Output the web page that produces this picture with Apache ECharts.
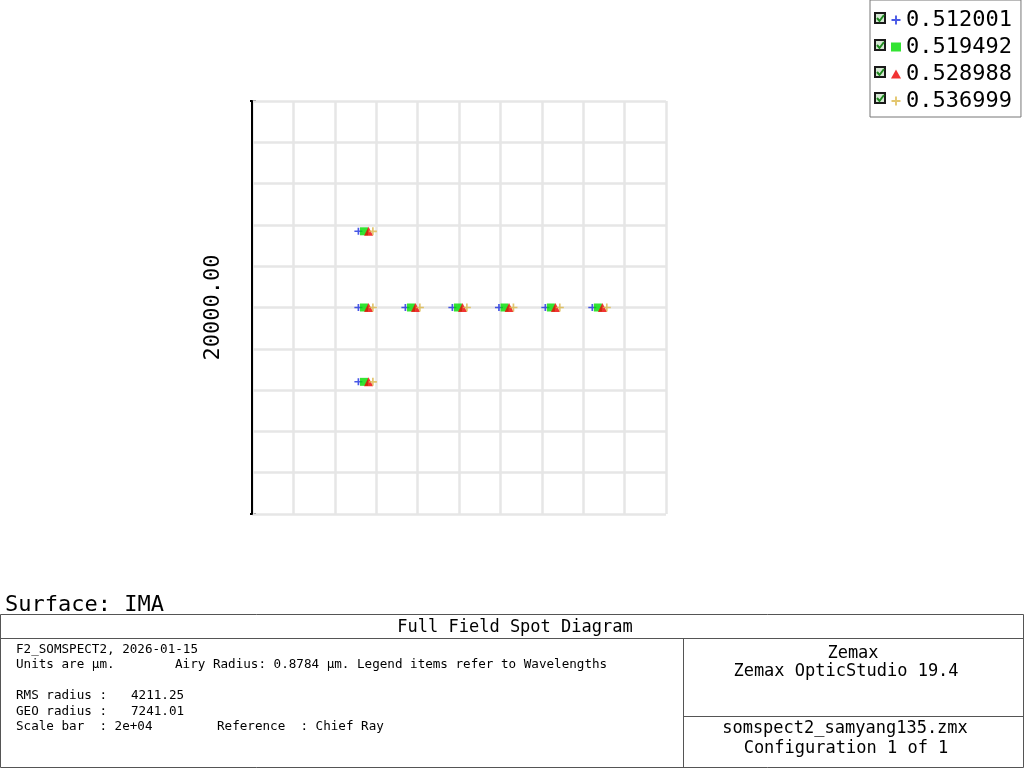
<!DOCTYPE html>
<html>
<head>
<meta charset="utf-8">
<script src="https://cdn.jsdelivr.net/npm/echarts@6/dist/echarts.min.js"></script>
<style>html,body{margin:0;padding:0;background:#fff}#c{width:1024px;height:768px}</style>
</head>
<body>
<div id="c"></div>
<script>
// Wavelengths (µm) used as legend entries
const wavelengths = ['0.512001', '0.519492', '0.528988', '0.536999'];
// Spot centroids per wavelength, [x, y] in µm on the image plane
const spots512 = [[-4860,3690],[-4860,0],[-2590,0],[-320,0],[1930,0],[4170,0],[6440,0],[-4860,-3600]];
const spots519 = [[-4590,3690],[-4590,0],[-2320,0],[-50,0],[2200,0],[4440,0],[6710,0],[-4590,-3600]];
const spots529 = [[-4370,3690],[-4370,0],[-2100,0],[170,0],[2420,0],[4660,0],[6930,0],[-4370,-3600]];
const spots537 = [[-4160,3690],[-4160,0],[-1890,0],[380,0],[2630,0],[4870,0],[7140,0],[-4160,-3600]];
const scaleBarLabel = '20000.00';
const infoLines = {
  title: 'Full Field Spot Diagram',
  surface: 'Surface: IMA',
  l1: 'F2_SOMSPECT2, 2026-01-15',
  l2a: 'Units are µm.',
  l2b: 'Airy Radius: 0.8784 µm. Legend items refer to Wavelengths',
  rms: 'RMS radius :',
  rmsVal: '4211.25',
  geo: 'GEO radius :',
  geoVal: '7241.01',
  scale: 'Scale bar  : 2e+04',
  ref: 'Reference  : Chief Ray',
  r1: 'Zemax',
  r2: 'Zemax OpticStudio 19.4',
  r3: 'somspect2_samyang135.zmx',
  r4: 'Configuration 1 of 1'
};

const MONO = '"DejaVu Sans Mono", "Liberation Mono", monospace';
const plus = 'path://M3,0h1.6v3h3v1.6h-3v3h-1.6v-3h-3v-1.6h3z';
const colors = ['#1a2ee0', '#00dd00', '#ee0000', '#dcb84a'];
const symbols = [plus, 'rect', 'triangle', plus];
const sizes = [[8,7],[8,8],[9,9],[8,8]];
const dataSets = [spots512, spots519, spots529, spots537];

const chart = echarts.init(document.getElementById('c'), null, {renderer: 'canvas'});

const series = wavelengths.map((w, i) => ({
  name: w,
  type: 'scatter',
  data: dataSets[i],
  symbol: symbols[i],
  symbolSize: sizes[i],
  itemStyle: {color: colors[i]},
  z: 3 + i,
  animation: false
}));

function txt(x, y, s, size, align) {
  return {type: 'text', x: x, y: y + 2, style: {text: s, font: size + 'px ' + MONO, fill: '#000', align: align || 'left', verticalAlign: 'middle'}};
}
function ln(x1, y1, x2, y2, col, w) {
  return {type: 'line', shape: {x1: x1, y1: y1, x2: x2, y2: y2}, style: {stroke: col || '#666', lineWidth: w || 1}};
}
const graphics = [];
// checkboxes in legend
[18, 45, 72, 98].forEach(y => {
  graphics.push({type: 'rect', shape: {x: 875, y: y - 5, width: 10, height: 10}, style: {fill: '#d6e8d4', stroke: '#1a1a1a', lineWidth: 2}, z: 100});
  graphics.push({type: 'polyline', shape: {points: [[877, y], [879.5, y + 3], [884, y - 3]]}, style: {stroke: '#1f8a1f', lineWidth: 2, fill: null}, z: 101});
});
// scale bar caps
graphics.push(ln(250, 101, 256, 101, '#000', 2));
graphics.push(ln(250, 514, 256, 514, '#000', 2));
// info box
graphics.push({type: 'rect', shape: {x: 0.5, y: 614.5, width: 1023, height: 153}, style: {fill: 'none', stroke: '#555', lineWidth: 1}});
graphics.push(ln(0, 638.5, 1024, 638.5, '#555'));
graphics.push(ln(683.5, 638.5, 683.5, 768, '#555'));
graphics.push(ln(683.5, 716.5, 1024, 716.5, '#555'));
graphics.push(txt(5, 603, infoLines.surface, 22));
graphics.push(txt(515, 626, infoLines.title, 17, 'center'));
graphics.push(txt(16, 648, infoLines.l1, 12.6));
graphics.push(txt(16, 663, infoLines.l2a, 12.6));
graphics.push(txt(175, 663, infoLines.l2b, 12.6));
graphics.push(txt(16, 694, infoLines.rms, 12.6));
graphics.push(txt(131, 694, infoLines.rmsVal, 12.6));
graphics.push(txt(16, 710, infoLines.geo, 12.6));
graphics.push(txt(131, 710, infoLines.geoVal, 12.6));
graphics.push(txt(16, 725, infoLines.scale, 12.6));
graphics.push(txt(217, 725, infoLines.ref, 12.6));
graphics.push(txt(853, 652, infoLines.r1, 17, 'center'));
graphics.push(txt(846, 670, infoLines.r2, 17, 'center'));
graphics.push(txt(845, 727, infoLines.r3, 17, 'center'));
graphics.push(txt(846, 747, infoLines.r4, 17, 'center'));

chart.setOption({
  animation: false,
  backgroundColor: '#fff',
  grid: {left: 252, top: 101, width: 414, height: 413, containLabel: false},
  xAxis: {
    type: 'value', min: -10000, max: 10000, interval: 2000,
    axisLine: {show: false}, axisTick: {show: false}, axisLabel: {show: false},
    splitLine: {show: true, lineStyle: {color: '#e6e6e6', width: 2.5}}
  },
  yAxis: {
    type: 'value', min: -10000, max: 10000, interval: 2000,
    name: scaleBarLabel, nameLocation: 'middle', nameRotate: 90, nameGap: 28,
    nameTextStyle: {fontFamily: MONO, fontSize: 22, color: '#000'},
    axisLine: {show: true, onZero: false, lineStyle: {color: '#000', width: 2}},
    axisTick: {show: false}, axisLabel: {show: false},
    splitLine: {show: true, lineStyle: {color: '#e6e6e6', width: 2.5}}
  },
  legend: {
    orient: 'vertical', left: 870, top: 0,
    padding: [9, 9, 5, 21], itemGap: 5,
    itemWidth: 10, itemHeight: 9,
    backgroundColor: '#fff', borderColor: '#777', borderWidth: 1,
    textStyle: {fontFamily: MONO, fontSize: 22, color: '#000', lineHeight: 22, padding: [0, 0, 0, 0]},
    data: wavelengths.map((w, i) => ({name: w, icon: symbols[i], itemStyle: {color: colors[i]}})),
    selectedMode: false
  },
  graphic: graphics,
  series: series
});
</script>
</body>
</html>
